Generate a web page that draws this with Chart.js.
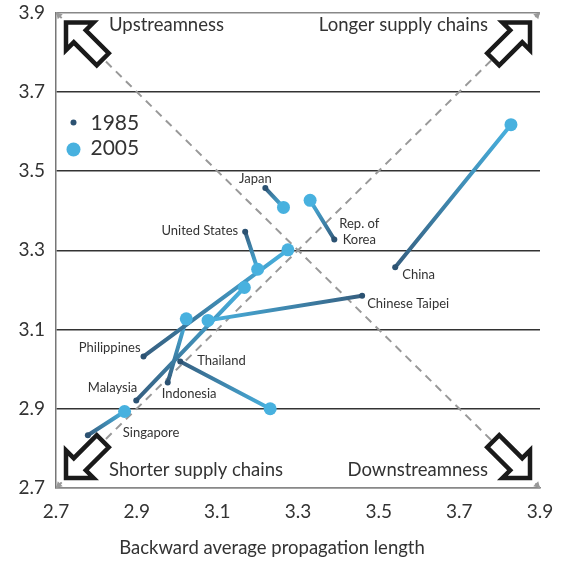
<!DOCTYPE html>
<html>
<head>
<meta charset="utf-8">
<script src="https://cdn.jsdelivr.net/npm/chart.js@4.4.0/dist/chart.umd.min.js"></script>
<style>
html, body { margin: 0; padding: 0; background: #fff; }
#wrap { width: 566px; height: 561px; }
</style>
</head>
<body>
<div id="wrap"><canvas id="apl" width="566" height="561"></canvas></div>
<script>
// values (backward APL on x, forward APL on y)
const countries = ['Japan', 'United States', 'Rep. of Korea', 'China', 'Chinese Taipei',
    'Philippines', 'Thailand', 'Malaysia', 'Indonesia', 'Singapore'];
const x1985 = [3.219, 3.169, 3.390, 3.541, 3.459, 2.917, 3.008, 2.899, 2.977, 2.779];
const y1985 = [3.457, 3.347, 3.327, 3.257, 3.185, 3.032, 3.019, 2.921, 2.966, 2.833];
const x2005 = [3.264, 3.200, 3.330, 3.828, 3.077, 3.275, 3.231, 3.167, 3.023, 2.870];
const y2005 = [3.408, 3.252, 3.426, 3.617, 3.123, 3.301, 2.900, 3.206, 3.127, 2.893];

const xTicks = [2.7, 2.9, 3.1, 3.3, 3.5, 3.7, 3.9];
const yTicks = [2.7, 2.9, 3.1, 3.3, 3.5, 3.7, 3.9];
const xTickLabels = ['2.7', '2.9', '3.1', '3.3', '3.5', '3.7', '3.9'];
const yTickLabels = ['2.7', '2.9', '3.1', '3.3', '3.5', '3.7', '3.9'];
const diagUp = [[2.7, 2.7], [3.9, 3.9]];
const diagDown = [[2.7, 3.9], [3.9, 2.7]];
const seriesNames = ['1985', '2005'];
const xTitle = 'Backward average propagation length';

// label placement relative to the 1985 point
const labelPlace = [
    { align: 'center', dx: -10, dy: -9 },
    { align: 'right', dx: -7, dy: -1 },
    { align: 'center', dx: 25, dy: -16, lines: ['Rep. of', 'Korea'] },
    { align: 'left', dx: 7, dy: 8 },
    { align: 'left', dx: 5, dy: 8 },
    { align: 'right', dx: -3, dy: -9 },
    { align: 'left', dx: 17, dy: -1 },
    { align: 'right', dx: 1, dy: -13 },
    { align: 'left', dx: -6, dy: 11 },
    { align: 'left', dx: 35, dy: -2 },
];

const DARK = '#2c5272';
const LINE_DARK = '#365f80';
const LIGHT = '#48b1df';
const TEXT = '#333333';
const FONT = 'Lato, "Open Sans", sans-serif';

const datasets = [];
datasets.push({
    label: seriesNames[1],
    data: x2005.map((x, i) => ({ x: x, y: y2005[i] })),
    showLine: false,
    pointRadius: 6.5,
    pointBackgroundColor: LIGHT,
    pointBorderWidth: 0,
    order: 0,
});
datasets.push({
    label: seriesNames[0],
    data: x1985.map((x, i) => ({ x: x, y: y1985[i] })),
    showLine: false,
    pointRadius: 3,
    pointBackgroundColor: DARK,
    pointBorderWidth: 0,
    order: 0,
});
countries.forEach((c, i) => {
    datasets.push({
        label: c,
        data: [{ x: x1985[i], y: y1985[i] }, { x: x2005[i], y: y2005[i] }],
        borderColor: LIGHT,
        borderWidth: 4,
        borderCapStyle: 'round',
        pointRadius: 0,
        order: 1,
        segment: {
            borderColor: ctx => {
                const g = ctx.chart.ctx.createLinearGradient(ctx.p0.x, ctx.p0.y, ctx.p1.x, ctx.p1.y);
                g.addColorStop(0, LINE_DARK);
                g.addColorStop(1, LIGHT);
                return g;
            },
        },
    });
});
[diagUp, diagDown].forEach(d => {
    datasets.push({
        label: 'diag',
        data: d.map(p => ({ x: p[0], y: p[1] })),
        borderColor: '#999999',
        borderWidth: 2,
        borderDash: [8, 6],
        pointRadius: 0,
        order: 2,
    });
});

function bigArrow(ctx, tx, ty, angle) {
    const s = 19.5, w = 8.5, L = 52;
    ctx.save();
    ctx.translate(tx, ty);
    ctx.rotate(angle);
    ctx.beginPath();
    ctx.moveTo(0, 0);
    ctx.lineTo(-s, -s);
    ctx.lineTo(-s, -w);
    ctx.lineTo(-L, -w);
    ctx.lineTo(-L, w);
    ctx.lineTo(-s, w);
    ctx.lineTo(-s, s);
    ctx.closePath();
    ctx.fillStyle = '#fff';
    ctx.fill();
    ctx.lineWidth = 4.5;
    ctx.lineJoin = 'miter';
    ctx.strokeStyle = '#1a1a1a';
    ctx.stroke();
    ctx.restore();
}

function smallHead(ctx, x, y, angle) {
    ctx.save();
    ctx.translate(x, y);
    ctx.rotate(angle);
    ctx.beginPath();
    ctx.moveTo(0, 0);
    ctx.lineTo(-6, -3.5);
    ctx.lineTo(-6, 3.5);
    ctx.closePath();
    ctx.fillStyle = '#999999';
    ctx.fill();
    ctx.restore();
}

const decorations = {
    id: 'decorations',
    afterDatasetsDraw(chart) {
        const ctx = chart.ctx;
        const a = chart.chartArea;
        const xs = chart.scales.x, ys = chart.scales.y;

        // country names
        ctx.save();
        ctx.font = '13px ' + FONT;
        ctx.fillStyle = TEXT;
        ctx.textBaseline = 'middle';
        countries.forEach((c, i) => {
            const p = labelPlace[i];
            const px = xs.getPixelForValue(x1985[i]) + p.dx;
            const py = ys.getPixelForValue(y1985[i]) + p.dy;
            ctx.textAlign = p.align;
            const lines = p.lines || [c];
            lines.forEach((t, k) => ctx.fillText(t, px, py + k * 16.5));
        });
        ctx.restore();

        // legend
        ctx.save();
        const lx = a.left + 17.5, ly = a.top + 110;
        ctx.fillStyle = DARK;
        ctx.beginPath(); ctx.arc(lx, ly, 3, 0, Math.PI * 2); ctx.fill();
        ctx.fillStyle = LIGHT;
        ctx.beginPath(); ctx.arc(lx, ly + 27, 7, 0, Math.PI * 2); ctx.fill();
        ctx.font = '21px ' + FONT;
        ctx.fillStyle = TEXT;
        ctx.textAlign = 'left';
        ctx.textBaseline = 'middle';
        ctx.fillText(seriesNames[0], lx + 17, ly + 1);
        ctx.fillText(seriesNames[1], lx + 17, ly + 26);
        ctx.restore();

        // little heads on the dashed diagonals
        smallHead(ctx, a.left, a.top, -3 * Math.PI / 4);
        smallHead(ctx, a.right, a.top, -Math.PI / 4);
        smallHead(ctx, a.left, a.bottom, 3 * Math.PI / 4);
        smallHead(ctx, a.right, a.bottom, Math.PI / 4);

        // corner arrows
        const inset = 10;
        bigArrow(ctx, a.left + inset, a.top + inset, -3 * Math.PI / 4);
        bigArrow(ctx, a.right - inset, a.top + inset, -Math.PI / 4);
        bigArrow(ctx, a.left + inset, a.bottom - inset, 3 * Math.PI / 4);
        bigArrow(ctx, a.right - inset, a.bottom - inset, Math.PI / 4);

        // corner captions
        ctx.save();
        ctx.font = '18.5px ' + FONT;
        ctx.fillStyle = TEXT;
        ctx.textBaseline = 'middle';
        ctx.textAlign = 'left';
        ctx.fillText('Upstreamness', a.left + 53, a.top + 12.5);
        ctx.fillText('Shorter supply chains', a.left + 53, a.bottom - 17.5);
        ctx.textAlign = 'right';
        ctx.fillText('Longer supply chains', a.right - 52, a.top + 12.5);
        ctx.fillText('Downstreamness', a.right - 52, a.bottom - 17.5);
        ctx.restore();

        // x axis title, set a little left of the plot centre as in the source
        ctx.save();
        ctx.font = '18.5px ' + FONT;
        ctx.fillStyle = TEXT;
        ctx.textAlign = 'center';
        ctx.textBaseline = 'middle';
        ctx.fillText(xTitle, (a.left + a.right) / 2 - 26, a.bottom + 60);
        ctx.restore();
    },
};

new Chart(document.getElementById('apl'), {
    type: 'line',
    data: { datasets: datasets },
    options: {
        responsive: false,
        animation: false,
        events: [],
        devicePixelRatio: 1,
        layout: { padding: { top: 12.5, right: 26, bottom: 0, left: 0 } },
        plugins: {
            legend: { display: false },
            tooltip: { enabled: false },
        },
        scales: {
            x: {
                type: 'linear',
                min: 2.7,
                max: 3.9,
                afterBuildTicks: s => { s.ticks = xTicks.map(v => ({ value: v })); },
                afterFit: s => { s.height = 73; },
                grid: { display: false, drawTicks: false },
                border: { display: true, color: '#888888', width: 1.5 },
                ticks: {
                    color: TEXT,
                    font: { family: FONT, size: 19 },
                    padding: 12,
                    autoSkip: false,
                    maxRotation: 0,
                    callback: (v, i) => xTickLabels[i],
                },
            },
            y: {
                type: 'linear',
                min: 2.7,
                max: 3.9,
                afterBuildTicks: s => { s.ticks = yTicks.map(v => ({ value: v })); },
                afterFit: s => { s.width = 56; s.paddingTop = 0; s.paddingBottom = 0; },
                grid: {
                    drawTicks: false,
                    lineWidth: 1.5,
                    color: c => (c.tick && (c.tick.value > 3.85 || c.tick.value < 2.75)) ? '#888888' : '#333333',
                },
                border: { display: true, color: '#777777', width: 1.5 },
                ticks: {
                    color: TEXT,
                    font: { family: FONT, size: 19 },
                    padding: 11,
                    autoSkip: false,
                    callback: (v, i) => yTickLabels[i],
                },
            },
        },
    },
    plugins: [decorations],
});
</script>
</body>
</html>
